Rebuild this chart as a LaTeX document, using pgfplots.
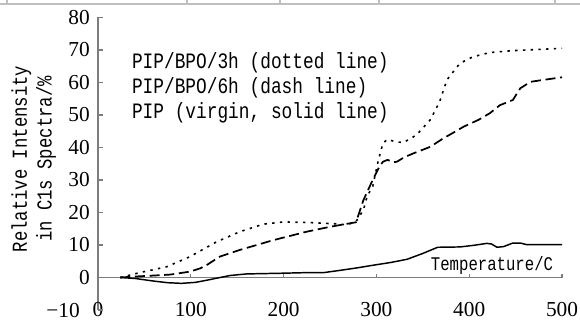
\documentclass[border=0pt]{standalone}
\usepackage{pgfplots}
\pgfplotsset{compat=1.18}
\usepackage{fontspec}
\setmainfont{Liberation Serif}
\newfontfamily\mono[FakeStretch=0.81]{Liberation Mono}
\definecolor{axgray}{RGB}{125,125,125}
\begin{document}
\begin{tikzpicture}[x=1pt,y=1pt]
\useasboundingbox (0,0) rectangle (435,241.5);
\draw[black!25, line width=0.8pt] (0,238.5) -- (435,238.5);
\foreach \xx in {5.25,140.25,210,284.25,416.25} \draw[black!25,line width=0.8pt] (\xx,238.5)--(\xx,241.5);
\begin{axis}[at={(73.5pt,9pt)}, anchor=south west, scale only axis,
 width=348pt, height=219.4pt,
 xmin=0, xmax=500, ymin=-10, ymax=80,
 axis x line=bottom, axis y line=left, axis line style={-},
 x axis line style={draw=none},
 y axis line style={draw=axgray, line width=0.8pt},
 xtick={0,100,...,500}, ytick={0,10,...,80},
 extra y ticks={-10}, extra y tick labels={−10},
 extra y tick style={yticklabel style={xshift=-7.5pt, yshift=-0.5pt}},
 xticklabel style={anchor=center, inner sep=0pt},
 yticklabel style={anchor=east, inner sep=0pt, xshift=-6pt},
 major x tick style={draw=none},
 y tick style={axgray, line width=0.8pt}, tick align=inside, major tick length=4pt,
 tick label style={font=\fontsize{16}{16}\selectfont},
 /pgf/number format/assume math mode=true,
 clip=false]
\addplot[axgray, line width=0.9pt, forget plot] coordinates {(0,0) (500,0)};
\pgfplotsinvokeforeach{100,200,300,400,500}{\draw[axgray, line width=0.8pt] (axis cs:#1,0) -- (axis cs:#1,1.2);}
% virgin PIP (solid)
\addplot[black, line width=1.1pt, line join=round] coordinates {
(24,0) (40,-0.3) (60,-1.1) (75,-1.6) (90,-1.8) (105,-1.5) (118,-0.8) (128,-0.2) (142,0.6) (160,1.1) (196,1.3) (225,1.5) (243,1.5) (261,2.2) (280,3.0) (297,3.8) (315,4.6) (333,5.6) (350,7.4) (366,9.3) (390,9.4) (405,9.9) (419,10.5) (424,10.3) (430,9.3) (437,9.5) (447,10.6) (455,10.6) (462,10.1) (500,10.1)};
% PIP/BPO/6h (dashed)
\addplot[black, line width=1.3pt, line join=round, dash pattern=on 7.5pt off 3.5pt] coordinates {
(24,0) (40,0.3) (60,0.6) (78,0.9) (99,1.8) (110,2.8) (117,3.8) (131,6.4) (153,8.5) (189,11.5) (225,14.1) (250,15.6) (268,16.5) (278,17) (286,23.8) (296,30) (303,34) (307,35.6) (312,36.2) (318,35.5) (322,35.6) (330,37) (340,38.2) (358,40.2) (372,42.8) (385,44.9) (394,46.4) (410,48.5) (422,50.5) (433,53) (447,54.6) (455,58.2) (466,60.2) (480,60.8) (500,61.6)};
% PIP/BPO/3h (dotted)
\addplot[black, line width=1.2pt, line join=round, dash pattern=on 1.8pt off 4pt] coordinates {
(24,0) (45,1.5) (74,3.3) (99,6.4) (128,11) (153,14.1) (178,16.4) (200,17.1) (228,16.9) (257,16.5) (268,16.2) (278,17.2) (286,20.8) (290,25) (296,28) (302,36) (307,41.3) (312,42.5) (320,41.8) (329,41.5) (343,43.8) (358,48.5) (368,54) (376,60.8) (390,65.9) (404,67.9) (422,69.2) (447,69.8) (500,70.5)};
\end{axis}
\node[rotate=90, align=center, font=\mono\fontsize{16}{18.4}\selectfont] at (25.3,122.25) {Relative Intensity\\in C1s Spectra/\%};
\node[anchor=west, inner sep=0pt, font=\mono\fontsize{16.5}{18}\selectfont] at (98.8,194.25) {PIP/BPO/3h (dotted line)};
\node[anchor=west, inner sep=0pt, font=\mono\fontsize{16.5}{18}\selectfont] at (98.8,175.5) {PIP/BPO/6h (dash line)};
\node[anchor=west, inner sep=0pt, font=\mono\fontsize{16.5}{18}\selectfont] at (98.8,156.75) {PIP (virgin, solid line)};
\node[inner sep=0pt, font=\mono\fontsize{14.5}{16}\selectfont] at (369,42.75) {Temperature/C};
\end{tikzpicture}
\end{document}
